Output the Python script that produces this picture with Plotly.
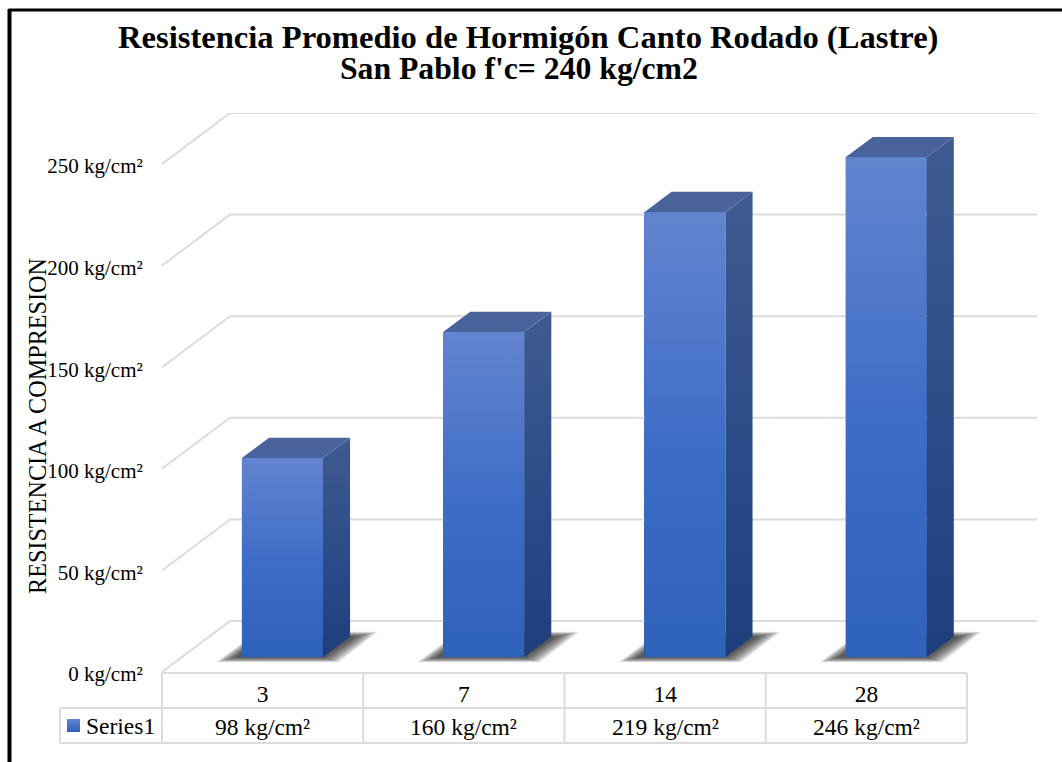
import plotly.graph_objects as go

# Curing age in days and mean compressive strength in kg/cm²
ages = ["3", "7", "14", "28"]
strength = [98, 160, 219, 246]
value_labels = ["98 kg/cm²", "160 kg/cm²", "219 kg/cm²", "246 kg/cm²"]
axis_ticks = [0, 50, 100, 150, 200, 250]
axis_tick_labels = ["0 kg/cm²", "50 kg/cm²", "100 kg/cm²", "150 kg/cm²", "200 kg/cm²", "250 kg/cm²"]
series_name = "Series1"
title_line_1 = "<b>Resistencia Promedio de Hormigón Canto Rodado (Lastre)</b>"
title_line_2 = "<b>San Pablo f'c= 240 kg/cm2</b>"
y_title = "RESISTENCIA A COMPRESION"

WIDTH, HEIGHT = 1062, 762
SERIF = "Liberation Serif, Times New Roman, serif"
GRID = "#dcdcdc"

# Plot frame in page pixels; the front plane of the floor sits on the x axis
LEFT, RIGHT, TOP, BOTTOM = 162, 1037, 113, 672
PX_PER_CAT = 201.25
PX_PER_UNIT = 2.032

# Oblique projection: depth 0 is the front of the floor, depth 1 the back wall
DEPTH_X = 68 / PX_PER_CAT
DEPTH_Y = 51 / PX_PER_UNIT
BAR_WIDTH = 81 / PX_PER_CAT
BAR_NEAR, BAR_FAR = 0.29, 0.69


def project(cat, value, depth=0.0):
    return cat + depth * DEPTH_X, value + depth * DEPTH_Y


def polygon(points):
    xs, ys = zip(*points)
    return list(xs) + [xs[0]], list(ys) + [ys[0]]


def paper_x(px):
    return (px - LEFT) / (RIGHT - LEFT)


def paper_y(px):
    return (BOTTOM - px) / (BOTTOM - TOP)


def lerp(a, b, t):
    return a + (b - a) * t


def face(points, stops):
    xs, ys = polygon(points)
    return go.Scatter(
        x=xs, y=ys, mode="lines", fill="toself", line=dict(width=0),
        fillgradient=dict(type="vertical", colorscale=stops),
        hoverinfo="skip", showlegend=False,
    )


# Colour stops run from the bottom of a face to its top
FRONT_STOPS = [[0, "#2f62b9"], [0.45, "#3c6cc6"], [1, "#6384cf"]]
SIDE_STOPS = [[0, "#1f3f7c"], [0.45, "#2b4c88"], [1, "#3f5b90"]]
TOP_STOPS = [[0, "#48629c"], [1, "#4a6399"]]

fig = go.Figure()

# Solid base columns, carrying the values on the shared axes
centers = [i + 0.5 + BAR_NEAR * DEPTH_X for i in range(len(ages))]
fig.add_trace(go.Bar(
    x=centers, y=strength, base=BAR_NEAR * DEPTH_Y, width=BAR_WIDTH,
    marker=dict(color="#3c6cc6", line=dict(width=0)), name=series_name,
    showlegend=False, hoverinfo="skip",
))

# Side wall and back wall gridlines
for tick in axis_ticks:
    x0, y0 = project(0, tick)
    x1, y1 = project(0, tick, 1)
    x2 = (RIGHT - LEFT) / PX_PER_CAT
    fig.add_trace(go.Scatter(
        x=[x0, x1, x2], y=[y0, y1, y1], mode="lines",
        line=dict(color=GRID, width=2), hoverinfo="skip", showlegend=False,
    ))

# Soft floor shadows, built from nested translucent parallelograms
SHADOW_STEPS = 14
for i in range(len(ages)):
    left = i + 0.5 - BAR_WIDTH / 2
    right = i + 0.5 + BAR_WIDTH / 2
    nl = project(left, 0, BAR_NEAR)
    nr = project(right, 0, BAR_NEAR)
    fr = project(right, 0, BAR_FAR)
    fl = project(left, 0, BAR_FAR)
    for step in range(SHADOW_STEPS):
        t = step / (SHADOW_STEPS - 1)
        pts = [
            (nl[0] + lerp(-26, -6, t) / PX_PER_CAT, nl[1] - lerp(5, 0, t) / PX_PER_UNIT),
            (nr[0] + lerp(16, 0, t) / PX_PER_CAT, nr[1] - lerp(5, 0, t) / PX_PER_UNIT),
            (fr[0] + lerp(28, 4, t) / PX_PER_CAT, fr[1] + lerp(5, 0, t) / PX_PER_UNIT),
            (fl[0] + lerp(-12, -4, t) / PX_PER_CAT, fl[1] + lerp(5, 0, t) / PX_PER_UNIT),
        ]
        xs, ys = polygon(pts)
        fig.add_trace(go.Scatter(
            x=xs, y=ys, mode="lines", fill="toself", line=dict(width=0),
            fillcolor="rgba(30,30,30,0.09)", hoverinfo="skip", showlegend=False,
        ))

# Shaded faces of each column
for i, value in enumerate(strength):
    left = i + 0.5 - BAR_WIDTH / 2
    right = i + 0.5 + BAR_WIDTH / 2
    nl0, nl1 = project(left, 0, BAR_NEAR), project(left, value, BAR_NEAR)
    nr0, nr1 = project(right, 0, BAR_NEAR), project(right, value, BAR_NEAR)
    fl1 = project(left, value, BAR_FAR)
    fr0, fr1 = project(right, 0, BAR_FAR), project(right, value, BAR_FAR)
    fig.add_trace(face([nr0, fr0, fr1, nr1], SIDE_STOPS))
    fig.add_trace(face([nl1, nr1, fr1, fl1], TOP_STOPS))
    fig.add_trace(face([nl0, nr0, nr1, nl1], FRONT_STOPS))

# Data table rules
ROW_TOP, ROW_MID, ROW_BOTTOM = 673, 708, 743
TABLE_LEFT, TABLE_RIGHT = 162, 967
LEGEND_LEFT = 60
rule = dict(color=GRID, width=2)
shapes = []


def add_rule(x0, y0, x1, y1, line=rule):
    shapes.append(dict(type="line", xref="paper", yref="paper",
                       x0=paper_x(x0), y0=paper_y(y0), x1=paper_x(x1), y1=paper_y(y1),
                       line=line))


add_rule(TABLE_LEFT, ROW_TOP, TABLE_RIGHT, ROW_TOP)
add_rule(LEGEND_LEFT, ROW_MID, TABLE_RIGHT, ROW_MID)
add_rule(LEGEND_LEFT, ROW_BOTTOM, TABLE_RIGHT, ROW_BOTTOM)
add_rule(LEGEND_LEFT, ROW_MID, LEGEND_LEFT, ROW_BOTTOM)
for i in range(len(ages) + 1):
    edge = TABLE_LEFT + i * PX_PER_CAT
    add_rule(edge, ROW_TOP, edge, ROW_BOTTOM)

# Legend swatch in the table's first cell, shaded in thin strips
SWATCH_X0, SWATCH_X1, SWATCH_Y0, SWATCH_Y1 = 67, 80, 719, 732
SWATCH_TOP = (0x63, 0x84, 0xcf)
SWATCH_BOTTOM = (0x2f, 0x62, 0xb9)
for row in range(SWATCH_Y1 - SWATCH_Y0):
    t = row / (SWATCH_Y1 - SWATCH_Y0 - 1)
    r, g, b = (round(lerp(a, c, t)) for a, c in zip(SWATCH_TOP, SWATCH_BOTTOM))
    shapes.append(dict(type="rect", xref="paper", yref="paper", line=dict(width=0),
                       x0=paper_x(SWATCH_X0), x1=paper_x(SWATCH_X1),
                       y0=paper_y(SWATCH_Y0 + row), y1=paper_y(SWATCH_Y0 + row + 1),
                       fillcolor=f"rgb({r},{g},{b})"))

# Page frame: heavy rule along the top and left only
add_rule(8.5, 10, WIDTH, 10, dict(color="black", width=3))
add_rule(9.5, 9, 9.5, HEIGHT, dict(color="black", width=4))


def page_text(x, y, text, size, xanchor="center", **extra):
    return dict(x=paper_x(x), y=paper_y(y), xref="paper", yref="paper", text=text,
                showarrow=False, xanchor=xanchor, yanchor="middle",
                font=dict(family=SERIF, size=size, color="black"), **extra)


annotations = [page_text(TABLE_LEFT + (i + 0.5) * PX_PER_CAT, 727, label, 23.5)
               for i, label in enumerate(value_labels)]
annotations.append(page_text(84, 726, series_name, 23.5, xanchor="left"))
annotations.append(page_text(37, 426, y_title, 24.2, textangle=-90))
annotations.append(page_text(527.5, 37, title_line_1, 32.6))
annotations.append(page_text(518.5, 69, title_line_2, 31.7))

fig.update_layout(
    width=WIDTH, height=HEIGHT, autosize=False,
    margin=dict(l=LEFT, r=WIDTH - RIGHT, t=TOP, b=HEIGHT - BOTTOM),
    paper_bgcolor="white", plot_bgcolor="white",
    showlegend=False, bargap=0,
    xaxis=dict(range=[0, (RIGHT - LEFT) / PX_PER_CAT], showgrid=False, zeroline=False, showline=False,
               tickmode="array", tickvals=[i + 0.5 for i in range(len(ages))], ticktext=ages,
               ticks="outside", ticklen=1, tickcolor="rgba(0,0,0,0)",
               tickfont=dict(family=SERIF, size=23.5, color="black")),
    yaxis=dict(range=[0, (BOTTOM - TOP) / PX_PER_UNIT], showgrid=False, zeroline=False, showline=False,
               tickmode="array", tickvals=axis_ticks, ticktext=axis_tick_labels,
               ticks="outside", ticklen=14, tickcolor="rgba(0,0,0,0)", ticklabelshift=2,
               tickfont=dict(family=SERIF, size=21, color="black")),
    shapes=shapes,
    annotations=annotations,
)

fig.write_html("out.html")
